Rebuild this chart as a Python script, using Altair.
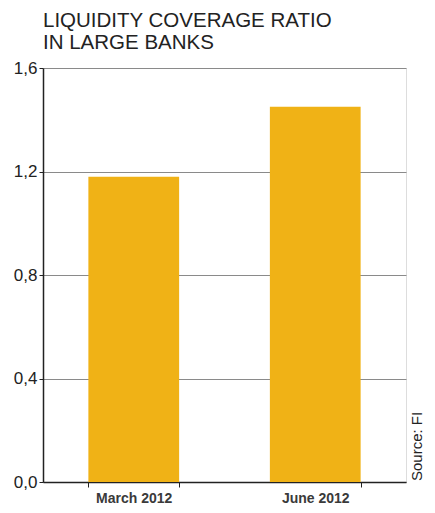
import altair as alt
import pandas as pd

periods = ["March 2012", "June 2012"]
lcr = [1.18, 1.45]
y_ticks = [0.0, 0.4, 0.8, 1.2, 1.6]
title_lines = ["LIQUIDITY COVERAGE RATIO", "IN LARGE BANKS"]
source = ["Source: FI"]

df = pd.DataFrame({"period": periods, "lcr": lcr})
src = pd.DataFrame({"t": source})

FONT = "Liberation Sans"

bars = alt.Chart(df).mark_bar(color="#F0B216").encode(
    x=alt.X(
        "period:N",
        sort=periods,
        title=None,
        scale=alt.Scale(paddingInner=0.5, paddingOuter=0.25),
        axis=alt.Axis(
            labelAngle=0,
            labelFont=FONT,
            labelFontSize=14,
            labelFontWeight="bold",
            labelColor="#3a3a3a",
            labelPadding=4,
            tickBand="extent",
            tickSize=5,
            tickColor="#222222",
            domainColor="#222222",
            domainWidth=1.5,
            grid=False,
        ),
    ),
    y=alt.Y(
        "lcr:Q",
        title=None,
        scale=alt.Scale(domain=[0, 1.6], nice=False),
        axis=alt.Axis(
            values=y_ticks,
            labelExpr="replace(format(datum.value, '.1f'), '.', ',')",
            labelFont=FONT,
            labelFontSize=17,
            labelColor="#222222",
            labelPadding=2,
            tickSize=4,
            tickColor="#222222",
            domainColor="#222222",
            domainWidth=1.5,
            gridColor="#8a8a8a",
            gridWidth=1,
        ),
    ),
)

note = alt.Chart(src).mark_text(
    angle=270, align="left", baseline="middle", font=FONT, fontSize=15, color="#222222"
).encode(
    text="t:N",
    x=alt.value(374),
    y=alt.value(413),
)

chart = alt.layer(bars, note).properties(
    width=363,
    height=414,
    padding={"left": 43, "top": 68, "right": 29, "bottom": 31},
    autosize=alt.AutoSizeParams(type="none"),
    title=alt.TitleParams(
        text=title_lines,
        anchor="start",
        frame="group",
        font=FONT,
        fontSize=20.5,
        fontWeight="normal",
        color="#222222",
        lineHeight=22,
        offset=6,
    ),
).configure_view(stroke="#8a8a8a", strokeWidth=1).configure(background="white")

chart.save("out.html", embed_options={"renderer": "svg", "actions": False})
